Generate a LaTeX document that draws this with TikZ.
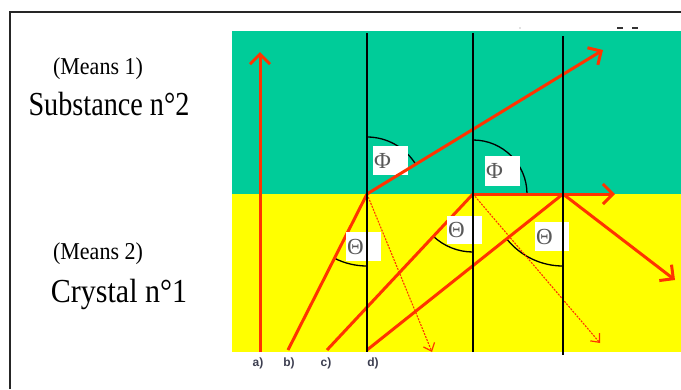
\documentclass[tikz,border=0pt]{standalone}
\usepackage{fontspec}
\setmainfont{Liberation Serif}
\newfontfamily\labfont{Liberation Sans}
\usetikzlibrary{arrows.meta}
\definecolor{medgreen}{RGB}{0,204,153}
\definecolor{medyellow}{RGB}{255,255,0}
\definecolor{ray}{RGB}{255,51,0}
\definecolor{labgray}{RGB}{60,62,80}
\tikzset{
  rayline/.style={draw=ray, line width=3pt, -{Straight Barb[length=10pt,width=20pt]}},
  rayseg/.style={draw=ray, line width=3pt},
  dashray/.style={draw=ray, line width=1.1pt, dash pattern=on 2pt off 1.2pt, -{Straight Barb[length=7pt,width=12pt,line width=1.2pt]}},
  normal/.style={draw=black, line width=1.8pt},
  anglearc/.style={draw=black, line width=1.3pt},
  anglebox/.style={fill=white, draw=none, anchor=north west, inner xsep=1pt, inner ysep=0pt, align=left, font=\fontsize{23}{23}\selectfont, text=black!65},
  medtext/.style={anchor=base, font=\fontsize{22}{22}\selectfont, yscale=1.1, transform shape},
  bigtext/.style={anchor=base, font=\fontsize{30}{30}\selectfont},
  raylab/.style={font=\labfont\bfseries\fontsize{12}{12}\selectfont, text=labgray}
}
\begin{document}
\begin{tikzpicture}[x=1pt,y=-1pt]
\useasboundingbox (0,0) rectangle (681,389);
% frame
\draw[line width=2pt, black!85] (10,389) -- (10,12) -- (681,12);
% media
\fill[medgreen] (232,31) rectangle (681,194);
\fill[medyellow] (232,194) rectangle (681,352);
% tiny marks at top
\draw[line width=1.2pt, black!80] (617,28) -- (623,28) (632,28) -- (638,28);
\fill[black!50] (520,28) circle (0.6pt);
% named points
\coordinate (a0) at (260,352); \coordinate (a1) at (260,52);
\coordinate (b0) at (288,350); \coordinate (P1) at (367,194); \coordinate (b1) at (603,50);
\coordinate (c0) at (327,350); \coordinate (P2) at (473,194); \coordinate (c1) at (615,194);
\coordinate (d0) at (367,350); \coordinate (P3) at (563,194); \coordinate (d1) at (675,280);
\coordinate (e1) at (432,352); \coordinate (e2) at (600,343);
\coordinate (n1t) at (367,33); \coordinate (n1b) at (367,352);
\coordinate (n2t) at (473,33); \coordinate (n2b) at (473,352);
\coordinate (n3t) at (563,36); \coordinate (n3b) at (563,355);
% angle arcs
\draw[anglearc] (P1) ++(-90:57) arc[start angle=-90, end angle=-31, radius=57];
\draw[anglearc] (P2) ++(-90:54) arc[start angle=-90, end angle=0, radius=54];
\draw[anglearc] (P1) ++(90:72) arc[start angle=90, end angle=117, radius=72];
\draw[anglearc] (P2) ++(90:58) arc[start angle=90, end angle=133, radius=58];
\draw[anglearc] (P3) ++(90:72) arc[start angle=90, end angle=141, radius=72];
% rays (lower parts)
\draw[rayline] (a0) -- (a1);
\draw[rayseg] (b0) -- (P1);
\draw[rayseg] (c0) -- (P2);
\draw[rayseg] (d0) -- (P3);
\draw[dashray] (P1) -- (e1);
\draw[dashray] (P2) -- (e2);
% angle boxes
\node[anglebox, minimum width=35pt, minimum height=29pt, text width=33pt] (phi1) at (373,146) {Φ};
\node[anglebox, minimum width=35pt, minimum height=30pt, text width=33pt] (phi2) at (485,156) {Φ};
\node[anglebox, minimum width=35pt, minimum height=29pt, text width=33pt] (th1) at (346,232) {Θ};
\node[anglebox, minimum width=35pt, minimum height=28pt, text width=33pt] (th2) at (447,216) {Θ};
\node[anglebox, minimum width=34pt, minimum height=29pt, text width=32pt] (th3) at (535,222) {Θ};
% emerging rays
\draw[rayline] (P1) -- (b1);
\draw[rayline] (P2) -- (c1);
\draw[rayline] (P3) -- (d1);
% normals
\draw[normal] (n1t) -- (n1b);
\draw[normal] (n2t) -- (n2b);
\draw[normal] (n3t) -- (n3b);
% ray labels
\node[raylab] (la) at (258,363) {a)};
\node[raylab] (lb) at (289,363) {b)};
\node[raylab] (lc) at (326,363) {c)};
\node[raylab] (ld) at (373,363) {d)};
% media labels
\node[medtext] (m1) at (98,74) {(Means 1)};
\node[bigtext, xscale=0.94, yscale=1.12, transform shape] (s2) at (109,115) {Substance n°2};
\node[medtext] (m2) at (98,259) {(Means 2)};
\node[bigtext, yscale=1.12, transform shape] (c1lab) at (119,302) {Crystal n°1};
\end{tikzpicture}
\end{document}
